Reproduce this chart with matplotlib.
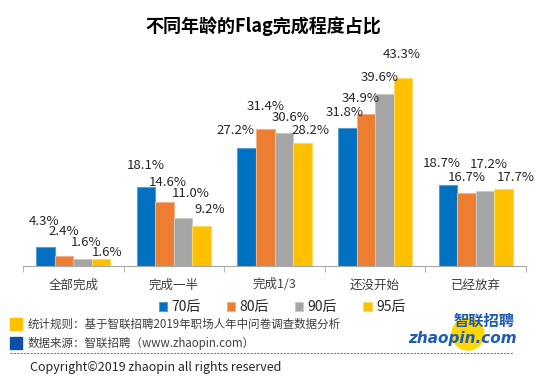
import matplotlib
matplotlib.use("Agg")
import matplotlib.pyplot as plt
import numpy as np
from matplotlib.patches import Ellipse, Rectangle
from matplotlib.lines import Line2D

plt.rcParams['font.family'] = ['Noto Sans CJK SC', 'DejaVu Sans']

# data
categories = ["全部完成", "完成一半", "完成1/3", "还没开始", "已经放弃"]
series = ["70后", "80后", "90后", "95后"]
v70 = [4.3, 18.1, 27.2, 31.8, 18.7]
v80 = [2.4, 14.6, 31.4, 34.9, 16.7]
v90 = [1.6, 11.0, 30.6, 39.6, 17.2]
v95 = [1.6, 9.2, 28.2, 43.3, 17.7]
colors = ["#0070C0", "#ED7D31", "#A5A5A5", "#FFC000"]
edges = ["#5B9BD5", "#F4B183", "#C9C9C9", "#FFD966"]

# label offsets in pixels (dx, dy) - hand placed like the original
label_dx = [[-1, 0, 4, 6], [0, 3, 8, 8], [-11, 0, 7, 8], [-3, -5, -5, -1], [-6, 0, 4, 12]]
label_dy = [[26, 24, 17, 7], [22, 20, 25, 16], [17, 23, 15, 13], [15, 16, 16, 23], [21, 16, 27, 12]]

W, H = 553, 382
fig = plt.figure(figsize=(W / 100, H / 100), dpi=100)
ax = fig.add_axes([23 / W, 1 - 266 / H, 503 / W, 50 * 4.35 / H])

x = np.arange(len(categories))
bw = 0.184
allv = [v70, v80, v90, v95]
for i, vals in enumerate(allv):
    pos = x + (i - 1.5) * bw
    ax.bar(pos, vals, bw, color=colors[i], edgecolor=edges[i], linewidth=0.8,
           label=series[i], zorder=2)
    for j, v in enumerate(vals):
        ax.annotate("%.1f%%" % v, xy=(pos[j], v),
                    xytext=(label_dx[j][i], label_dy[j][i]),
                    textcoords="offset pixels", ha="center", va="center",
                    fontsize=9.5, color="#262626")

ax.set_xlim(-0.5, len(categories) - 0.5)
ax.set_ylim(0, 50)
ax.set_yticks([])
for s in ["left", "top", "right"]:
    ax.spines[s].set_visible(False)
ax.spines["bottom"].set_color("#A6A6A6")
ax.set_xticks(x)
ax.set_xticklabels(categories, fontsize=9, color="#404040")
ax.tick_params(axis="x", which="major", length=0, pad=9)
ax.set_xticks(np.arange(-0.5, len(categories), 1), minor=True)
ax.tick_params(axis="x", which="minor", length=4, color="#A6A6A6")

leg = ax.legend(loc="center", bbox_to_anchor=(282 / W, 1 - 307 / H),
                bbox_transform=fig.transFigure, ncol=4, frameon=False,
                fontsize=10, handlelength=0.6, handleheight=0.6,
                handletextpad=0.3, columnspacing=1.9)
for t in leg.get_texts():
    t.set_color("#262626")

# footnotes
fig.add_artist(Rectangle((10 / W, 1 - 330 / H), 12 / W, 12 / H,
                         transform=fig.transFigure, color="#FFC000"))
fig.add_artist(Rectangle((10 / W, 1 - 349 / H), 12 / W, 12 / H,
                         transform=fig.transFigure, color="#0D4FA8"))
fig.text(28 / W, 1 - 324 / H, "统计规则：基于智联招聘2019年职场人年中问卷调查数据分析",
         fontsize=8.3, color="#404040", va="center")
fig.text(28 / W, 1 - 343 / H, "数据来源：智联招聘（www.zhaopin.com）",
         fontsize=8.3, color="#404040", va="center")
fig.add_artist(Line2D([10 / W, 513 / W], [1 - 353 / H, 1 - 353 / H],
                      transform=fig.transFigure, color="#808080",
                      linestyle=(0, (2, 1)), linewidth=0.8))
fig.text(30 / W, 1 - 368 / H, "Copyright©2019 zhaopin all rights reserved",
         fontsize=9, color="#262626", va="center")

# logo
fig.add_artist(Ellipse((468 / W, 1 - 334 / H), 32 / W, 32 / H,
                       transform=fig.transFigure, color="#FFD700"))
fig.text(484 / W, 1 - 321 / H, "智联招聘", fontsize=11, fontweight="bold",
         style="italic", color="#1E5BB5", ha="center", va="center")
fig.text(462 / W, 1 - 339 / H, "zhaopin.com", fontsize=11, fontweight="bold",
         style="italic", color="#1E5BB5", ha="center", va="center",
         family="DejaVu Sans")

fig.text(263 / W, 1 - 26 / H, "不同年龄的Flag完成程度占比", fontsize=13,
         fontweight="bold", ha="center", va="center", color="black")

fig.savefig("out.png", dpi=100)
